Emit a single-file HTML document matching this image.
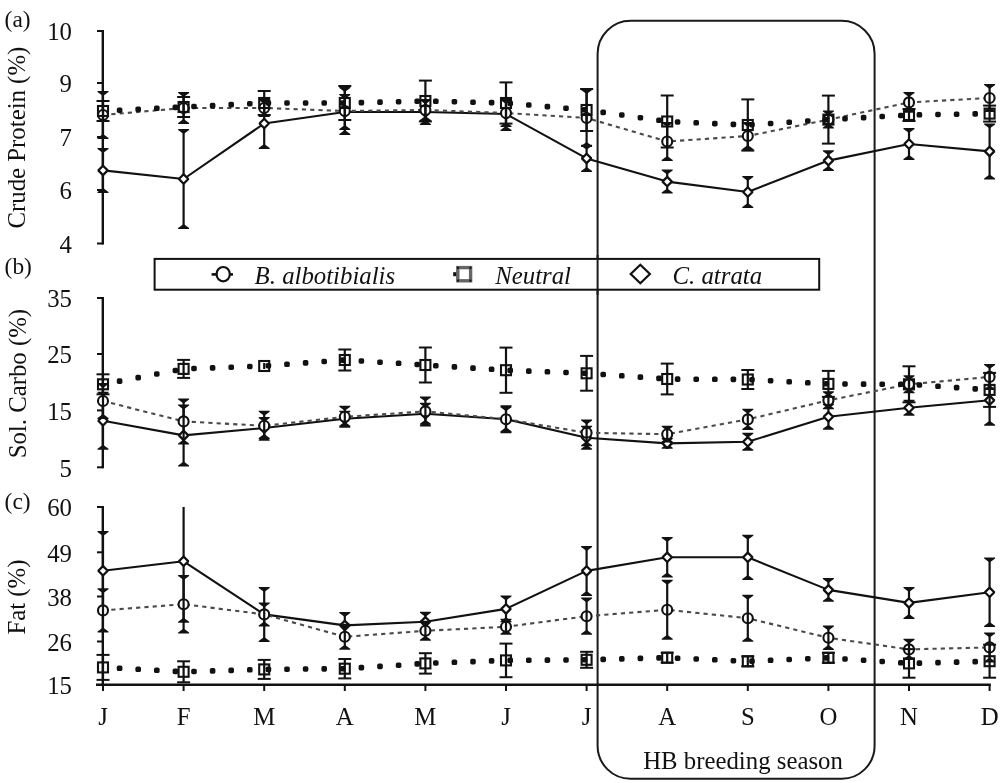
<!DOCTYPE html>
<html><head><meta charset="utf-8"><title>Figure</title>
<style>
html,body{margin:0;padding:0;background:#fff}
svg{display:block}
text{font-family:"Liberation Serif","Times New Roman",serif;font-size:24.8px;fill:#111}
.it{font-style:italic}
.pl{font-size:23.4px}
.ax{stroke:#111;stroke-width:2.4;fill:none}
.tk{stroke:#111;stroke-width:2;fill:none}
.eb{stroke:#111;stroke-width:2.2}
.cap{stroke:#111;stroke-width:2}
.tri{fill:#111;stroke:none}
.dot{fill:none;stroke:#111;stroke-width:5.2;stroke-linejoin:round;stroke-dasharray:5.4 13.2;stroke-dashoffset:4.7}
.dt{fill:#111}
.dash{fill:none;stroke:#4a4a4a;stroke-width:2.1;stroke-dasharray:4.2 4.1}
.sol{fill:none;stroke:#111;stroke-width:2.1;stroke-linejoin:round}
.mk{fill:none;stroke:#111;stroke-width:2.1}
.cm{fill:#fff}
.dm{stroke-width:2.3;stroke-linejoin:bevel;fill:#fff}
</style></head><body>
<svg width="1002" height="783" viewBox="0 0 1002 783">
<rect width="1002" height="783" fill="#fff"/>
<rect x="597.6" y="20.8" width="277" height="758" rx="33" ry="33" fill="none" stroke="#1a1a1a" stroke-width="2"/>
<rect x="154.6" y="258.9" width="664.6" height="30.8" fill="#fff" stroke="#111" stroke-width="2"/>
<line x1="597.6" y1="255" x2="597.6" y2="295" stroke="#1a1a1a" stroke-width="2"/>
<g class="lg">
<line x1="211.6" y1="274.4" x2="233" y2="274.4" stroke="#111" stroke-width="2.6"/>
<ellipse cx="223.2" cy="274.2" rx="6.6" ry="7.2" fill="#fff" stroke="#111" stroke-width="2.2"/>
<text x="254.6" y="284" class="it">B. albotibialis</text>
<rect x="453.2" y="272.2" width="5" height="4" fill="#111"/>
<rect x="457.8" y="267.6" width="12.8" height="13.2" fill="#fff" stroke="#666" stroke-width="3.4"/>
<rect x="457" y="266.8" width="2" height="2" fill="#111"/>
<rect x="457" y="279.6" width="2" height="2" fill="#111"/>
<rect x="469.4" y="266.8" width="2" height="2" fill="#111"/>
<rect x="469.4" y="279.6" width="2" height="2" fill="#111"/>
<text x="495.2" y="284" class="it">Neutral</text>
<path d="M640.3 264.8L649.9 274L640.3 283.2L630.7 274Z" fill="#fff" stroke="#111" stroke-width="2.2"/>
<text x="672.5" y="284" class="it">C. atrata</text>
</g>
<line x1="102.8" y1="30" x2="102.8" y2="244.5" class="ax"/>
<line x1="97" y1="31" x2="103" y2="31" class="tk"/>
<text x="72" y="40.4" text-anchor="end">10</text>
<line x1="97" y1="83" x2="103" y2="83" class="tk"/>
<text x="72" y="92.4" text-anchor="end">9</text>
<line x1="97" y1="137" x2="103" y2="137" class="tk"/>
<text x="72" y="146.4" text-anchor="end">7</text>
<line x1="97" y1="190" x2="103" y2="190" class="tk"/>
<text x="72" y="199.4" text-anchor="end">6</text>
<line x1="97" y1="243.5" x2="103" y2="243.5" class="tk"/>
<text x="72" y="252.9" text-anchor="end">4</text>
<line x1="102.8" y1="297" x2="102.8" y2="468.3" class="ax"/>
<line x1="97" y1="298" x2="103" y2="298" class="tk"/>
<text x="72" y="307.4" text-anchor="end">35</text>
<line x1="97" y1="354" x2="103" y2="354" class="tk"/>
<text x="72" y="363.4" text-anchor="end">25</text>
<line x1="97" y1="410.4" x2="103" y2="410.4" class="tk"/>
<text x="72" y="419.8" text-anchor="end">15</text>
<line x1="97" y1="467.3" x2="103" y2="467.3" class="tk"/>
<text x="72" y="476.7" text-anchor="end">5</text>
<line x1="102.8" y1="506" x2="102.8" y2="685.8" class="ax"/>
<line x1="97" y1="507" x2="103" y2="507" class="tk"/>
<text x="72" y="516.4" text-anchor="end">60</text>
<line x1="97" y1="552.3" x2="103" y2="552.3" class="tk"/>
<text x="72" y="561.7" text-anchor="end">49</text>
<line x1="97" y1="596.5" x2="103" y2="596.5" class="tk"/>
<text x="72" y="605.9" text-anchor="end">38</text>
<line x1="97" y1="641.5" x2="103" y2="641.5" class="tk"/>
<text x="72" y="650.9" text-anchor="end">26</text>
<text x="72" y="694.2" text-anchor="end">15</text>
<line x1="96" y1="684.8" x2="990.8" y2="684.8" class="ax"/>
<line x1="103" y1="684" x2="103" y2="691" class="tk"/>
<text x="103" y="724.6" text-anchor="middle">J</text>
<line x1="183.6" y1="684" x2="183.6" y2="691" class="tk"/>
<text x="183.6" y="724.6" text-anchor="middle">F</text>
<line x1="264.2" y1="684" x2="264.2" y2="691" class="tk"/>
<text x="264.2" y="724.6" text-anchor="middle">M</text>
<line x1="344.8" y1="684" x2="344.8" y2="691" class="tk"/>
<text x="344.8" y="724.6" text-anchor="middle">A</text>
<line x1="425.4" y1="684" x2="425.4" y2="691" class="tk"/>
<text x="425.4" y="724.6" text-anchor="middle">M</text>
<line x1="506" y1="684" x2="506" y2="691" class="tk"/>
<text x="506" y="724.6" text-anchor="middle">J</text>
<line x1="586.6" y1="684" x2="586.6" y2="691" class="tk"/>
<text x="586.6" y="724.6" text-anchor="middle">J</text>
<line x1="667.2" y1="684" x2="667.2" y2="691" class="tk"/>
<text x="667.2" y="724.6" text-anchor="middle">A</text>
<line x1="747.8" y1="684" x2="747.8" y2="691" class="tk"/>
<text x="747.8" y="724.6" text-anchor="middle">S</text>
<line x1="828.4" y1="684" x2="828.4" y2="691" class="tk"/>
<text x="828.4" y="724.6" text-anchor="middle">O</text>
<line x1="909" y1="684" x2="909" y2="691" class="tk"/>
<text x="909" y="724.6" text-anchor="middle">N</text>
<line x1="989.6" y1="684" x2="989.6" y2="691" class="tk"/>
<text x="989.6" y="724.6" text-anchor="middle">D</text>
<text x="743" y="768.6" text-anchor="middle">HB breeding season</text>
<text x="4.6" y="27.3" class="pl">(a)</text>
<text x="4.6" y="274.2" class="pl">(b)</text>
<text x="4.6" y="509" class="pl">(c)</text>
<text transform="translate(25.3,137.6) rotate(-90)" text-anchor="middle">Crude Protein (%)</text>
<text transform="translate(25.8,383.6) rotate(-90)" text-anchor="middle">Sol. Carbo (%)</text>
<text transform="translate(25.3,597) rotate(-90)" text-anchor="middle">Fat (%)</text>
<line x1="103" y1="148.9" x2="103" y2="191.9" class="eb"/>
<path d="M97.5 147.9H108.5V148.9L103 152.9L97.5 148.9Z" class="tri"/>
<path d="M97.5 192.9H108.5V191.9L103 187.9L97.5 191.9Z" class="tri"/>
<line x1="183.6" y1="130" x2="183.6" y2="228" class="eb"/>
<path d="M178.1 129H189.1V130L183.6 134L178.1 130Z" class="tri"/>
<path d="M178.1 229H189.1V228L183.6 224L178.1 228Z" class="tri"/>
<line x1="264.2" y1="99" x2="264.2" y2="148" class="eb"/>
<path d="M258.7 98H269.7V99L264.2 103L258.7 99Z" class="tri"/>
<path d="M258.7 149H269.7V148L264.2 144L258.7 148Z" class="tri"/>
<line x1="344.8" y1="95" x2="344.8" y2="129" class="eb"/>
<path d="M339.3 94H350.3V95L344.8 99L339.3 95Z" class="tri"/>
<path d="M339.3 130H350.3V129L344.8 125L339.3 129Z" class="tri"/>
<line x1="425.4" y1="100" x2="425.4" y2="124" class="eb"/>
<path d="M419.9 99H430.9V100L425.4 104L419.9 100Z" class="tri"/>
<path d="M419.9 125H430.9V124L425.4 120L419.9 124Z" class="tri"/>
<line x1="506" y1="98" x2="506" y2="130" class="eb"/>
<path d="M500.5 97H511.5V98L506 102L500.5 98Z" class="tri"/>
<path d="M500.5 131H511.5V130L506 126L500.5 130Z" class="tri"/>
<line x1="586.6" y1="145.8" x2="586.6" y2="171" class="eb"/>
<path d="M581.1 144.8H592.1V145.8L586.6 149.8L581.1 145.8Z" class="tri"/>
<path d="M581.1 172H592.1V171L586.6 167L581.1 171Z" class="tri"/>
<line x1="667.2" y1="170.6" x2="667.2" y2="192.6" class="eb"/>
<path d="M661.7 169.6H672.7V170.6L667.2 174.6L661.7 170.6Z" class="tri"/>
<path d="M661.7 193.6H672.7V192.6L667.2 188.6L661.7 192.6Z" class="tri"/>
<line x1="747.8" y1="177" x2="747.8" y2="207" class="eb"/>
<path d="M742.3 176H753.3V177L747.8 181L742.3 177Z" class="tri"/>
<path d="M742.3 208H753.3V207L747.8 203L742.3 207Z" class="tri"/>
<line x1="828.4" y1="151.3" x2="828.4" y2="169.9" class="eb"/>
<path d="M822.9 150.3H833.9V151.3L828.4 155.3L822.9 151.3Z" class="tri"/>
<path d="M822.9 170.9H833.9V169.9L828.4 165.9L822.9 169.9Z" class="tri"/>
<line x1="909" y1="129" x2="909" y2="159" class="eb"/>
<path d="M903.5 128H914.5V129L909 133L903.5 129Z" class="tri"/>
<path d="M903.5 160H914.5V159L909 155L903.5 159Z" class="tri"/>
<line x1="989.6" y1="124.4" x2="989.6" y2="178.4" class="eb"/>
<path d="M984.1 123.4H995.1V124.4L989.6 128.4L984.1 124.4Z" class="tri"/>
<path d="M984.1 179.4H995.1V178.4L989.6 174.4L984.1 178.4Z" class="tri"/>
<polyline points="103,170.4 183.6,179 264.2,123.5 344.8,112 425.4,112 506,114 586.6,158.4 667.2,181.6 747.8,192 828.4,160.6 909,144 989.6,151.4" class="sol"/>
<path d="M103 165.7L107.7 170.4L103 175.1L98.3 170.4Z" class="mk dm"/>
<path d="M183.6 174.3L188.3 179L183.6 183.7L178.9 179Z" class="mk dm"/>
<path d="M264.2 118.8L268.9 123.5L264.2 128.2L259.5 123.5Z" class="mk dm"/>
<path d="M344.8 107.3L349.5 112L344.8 116.7L340.1 112Z" class="mk dm"/>
<path d="M425.4 107.3L430.1 112L425.4 116.7L420.7 112Z" class="mk dm"/>
<path d="M506 109.3L510.7 114L506 118.7L501.3 114Z" class="mk dm"/>
<path d="M586.6 153.7L591.3 158.4L586.6 163.1L581.9 158.4Z" class="mk dm"/>
<path d="M667.2 176.9L671.9 181.6L667.2 186.3L662.5 181.6Z" class="mk dm"/>
<path d="M747.8 187.3L752.5 192L747.8 196.7L743.1 192Z" class="mk dm"/>
<path d="M828.4 155.9L833.1 160.6L828.4 165.3L823.7 160.6Z" class="mk dm"/>
<path d="M909 139.3L913.7 144L909 148.7L904.3 144Z" class="mk dm"/>
<path d="M989.6 146.7L994.3 151.4L989.6 156.1L984.9 151.4Z" class="mk dm"/>
<polyline points="103,115 183.6,108 264.2,108 344.8,111 425.4,110 506,113 586.6,118 667.2,141.5 747.8,136 828.4,119.6 909,102.4 989.6,98" class="dash"/>
<circle cx="103" cy="115" r="5" class="mk cm"/>
<circle cx="183.6" cy="108" r="5" class="mk cm"/>
<circle cx="264.2" cy="108" r="5" class="mk cm"/>
<circle cx="344.8" cy="111" r="5" class="mk cm"/>
<circle cx="425.4" cy="110" r="5" class="mk cm"/>
<circle cx="506" cy="113" r="5" class="mk cm"/>
<circle cx="586.6" cy="118" r="5" class="mk cm"/>
<circle cx="667.2" cy="141.5" r="5" class="mk cm"/>
<circle cx="747.8" cy="136" r="5" class="mk cm"/>
<circle cx="828.4" cy="119.6" r="5" class="mk cm"/>
<circle cx="909" cy="102.4" r="5" class="mk cm"/>
<circle cx="989.6" cy="98" r="5" class="mk cm"/>
<line x1="103" y1="92" x2="103" y2="138" class="eb"/>
<path d="M97.5 91H108.5V92L103 96L97.5 92Z" class="tri"/>
<path d="M97.5 139H108.5V138L103 134L97.5 138Z" class="tri"/>
<line x1="183.6" y1="93" x2="183.6" y2="123" class="eb"/>
<path d="M178.1 92H189.1V93L183.6 97L178.1 93Z" class="tri"/>
<path d="M178.1 124H189.1V123L183.6 119L178.1 123Z" class="tri"/>
<line x1="264.2" y1="100" x2="264.2" y2="116" class="eb"/>
<path d="M258.7 99H269.7V100L264.2 104L258.7 100Z" class="tri"/>
<path d="M258.7 117H269.7V116L264.2 112L258.7 116Z" class="tri"/>
<line x1="344.8" y1="88" x2="344.8" y2="134" class="eb"/>
<path d="M339.3 87H350.3V88L344.8 92L339.3 88Z" class="tri"/>
<path d="M339.3 135H350.3V134L344.8 130L339.3 134Z" class="tri"/>
<line x1="425.4" y1="100" x2="425.4" y2="120" class="eb"/>
<path d="M419.9 99H430.9V100L425.4 104L419.9 100Z" class="tri"/>
<path d="M419.9 121H430.9V120L425.4 116L419.9 120Z" class="tri"/>
<line x1="506" y1="100" x2="506" y2="126" class="eb"/>
<path d="M500.5 99H511.5V100L506 104L500.5 100Z" class="tri"/>
<path d="M500.5 127H511.5V126L506 122L500.5 126Z" class="tri"/>
<line x1="586.6" y1="90" x2="586.6" y2="146" class="eb"/>
<path d="M581.1 89H592.1V90L586.6 94L581.1 90Z" class="tri"/>
<path d="M581.1 147H592.1V146L586.6 142L581.1 146Z" class="tri"/>
<line x1="667.2" y1="123" x2="667.2" y2="160" class="eb"/>
<path d="M661.7 122H672.7V123L667.2 127L661.7 123Z" class="tri"/>
<path d="M661.7 161H672.7V160L667.2 156L661.7 160Z" class="tri"/>
<line x1="747.8" y1="123" x2="747.8" y2="149" class="eb"/>
<path d="M742.3 122H753.3V123L747.8 127L742.3 123Z" class="tri"/>
<path d="M742.3 150H753.3V149L747.8 145L742.3 149Z" class="tri"/>
<line x1="828.4" y1="111.6" x2="828.4" y2="127.6" class="eb"/>
<path d="M822.9 110.6H833.9V111.6L828.4 115.6L822.9 111.6Z" class="tri"/>
<path d="M822.9 128.6H833.9V127.6L828.4 123.6L822.9 127.6Z" class="tri"/>
<line x1="909" y1="93" x2="909" y2="111.8" class="eb"/>
<path d="M903.5 92H914.5V93L909 97L903.5 93Z" class="tri"/>
<path d="M903.5 112.8H914.5V111.8L909 107.8L903.5 111.8Z" class="tri"/>
<line x1="989.6" y1="85" x2="989.6" y2="111" class="eb"/>
<path d="M984.1 84H995.1V85L989.6 89L984.1 85Z" class="tri"/>
<path d="M984.1 112H995.1V111L989.6 107L984.1 111Z" class="tri"/>
<rect x="116.8" y="107.4" width="5.6" height="5.6" rx="1.7" class="dt"/>
<rect x="135.4" y="106.5" width="5.6" height="5.6" rx="1.7" class="dt"/>
<rect x="154" y="105.5" width="5.6" height="5.6" rx="1.7" class="dt"/>
<rect x="172.6" y="104.6" width="5.6" height="5.6" rx="1.7" class="dt"/>
<rect x="191.2" y="103.7" width="5.6" height="5.6" rx="1.7" class="dt"/>
<rect x="209.8" y="102.8" width="5.6" height="5.6" rx="1.7" class="dt"/>
<rect x="228.4" y="101.8" width="5.6" height="5.6" rx="1.7" class="dt"/>
<rect x="247" y="100.9" width="5.6" height="5.6" rx="1.7" class="dt"/>
<rect x="265.6" y="100.2" width="5.6" height="5.6" rx="1.7" class="dt"/>
<rect x="284.2" y="100.2" width="5.6" height="5.6" rx="1.7" class="dt"/>
<rect x="302.8" y="100.2" width="5.6" height="5.6" rx="1.7" class="dt"/>
<rect x="321.4" y="100.2" width="5.6" height="5.6" rx="1.7" class="dt"/>
<rect x="340" y="100.2" width="5.6" height="5.6" rx="1.7" class="dt"/>
<rect x="358.6" y="99.8" width="5.6" height="5.6" rx="1.7" class="dt"/>
<rect x="377.2" y="99.3" width="5.6" height="5.6" rx="1.7" class="dt"/>
<rect x="395.8" y="98.9" width="5.6" height="5.6" rx="1.7" class="dt"/>
<rect x="414.4" y="98.4" width="5.6" height="5.6" rx="1.7" class="dt"/>
<rect x="433" y="98.5" width="5.6" height="5.6" rx="1.7" class="dt"/>
<rect x="451.6" y="98.9" width="5.6" height="5.6" rx="1.7" class="dt"/>
<rect x="470.2" y="99.4" width="5.6" height="5.6" rx="1.7" class="dt"/>
<rect x="488.8" y="99.8" width="5.6" height="5.6" rx="1.7" class="dt"/>
<rect x="507.4" y="100.6" width="5.6" height="5.6" rx="1.7" class="dt"/>
<rect x="526" y="102.2" width="5.6" height="5.6" rx="1.7" class="dt"/>
<rect x="544.6" y="103.8" width="5.6" height="5.6" rx="1.7" class="dt"/>
<rect x="563.2" y="105.4" width="5.6" height="5.6" rx="1.7" class="dt"/>
<rect x="581.8" y="107" width="5.6" height="5.6" rx="1.7" class="dt"/>
<rect x="600.4" y="109.6" width="5.6" height="5.6" rx="1.7" class="dt"/>
<rect x="619" y="112.2" width="5.6" height="5.6" rx="1.7" class="dt"/>
<rect x="637.6" y="114.9" width="5.6" height="5.6" rx="1.7" class="dt"/>
<rect x="656.2" y="117.5" width="5.6" height="5.6" rx="1.7" class="dt"/>
<rect x="674.8" y="119.2" width="5.6" height="5.6" rx="1.7" class="dt"/>
<rect x="693.4" y="120" width="5.6" height="5.6" rx="1.7" class="dt"/>
<rect x="712" y="120.8" width="5.6" height="5.6" rx="1.7" class="dt"/>
<rect x="730.6" y="121.6" width="5.6" height="5.6" rx="1.7" class="dt"/>
<rect x="749.2" y="121.9" width="5.6" height="5.6" rx="1.7" class="dt"/>
<rect x="767.8" y="120.7" width="5.6" height="5.6" rx="1.7" class="dt"/>
<rect x="786.4" y="119.4" width="5.6" height="5.6" rx="1.7" class="dt"/>
<rect x="805" y="118.2" width="5.6" height="5.6" rx="1.7" class="dt"/>
<rect x="823.6" y="116.9" width="5.6" height="5.6" rx="1.7" class="dt"/>
<rect x="842.2" y="115.9" width="5.6" height="5.6" rx="1.7" class="dt"/>
<rect x="860.8" y="114.8" width="5.6" height="5.6" rx="1.7" class="dt"/>
<rect x="879.4" y="113.7" width="5.6" height="5.6" rx="1.7" class="dt"/>
<rect x="898" y="112.7" width="5.6" height="5.6" rx="1.7" class="dt"/>
<rect x="916.6" y="112" width="5.6" height="5.6" rx="1.7" class="dt"/>
<rect x="935.2" y="111.7" width="5.6" height="5.6" rx="1.7" class="dt"/>
<rect x="953.8" y="111.4" width="5.6" height="5.6" rx="1.7" class="dt"/>
<rect x="972.4" y="111.1" width="5.6" height="5.6" rx="1.7" class="dt"/>
<line x1="103" y1="101" x2="103" y2="121" class="eb"/>
<line x1="96.5" y1="101" x2="109.5" y2="101" class="cap"/>
<line x1="96.5" y1="121" x2="109.5" y2="121" class="cap"/>
<line x1="183.6" y1="97" x2="183.6" y2="117" class="eb"/>
<line x1="177.1" y1="97" x2="190.1" y2="97" class="cap"/>
<line x1="177.1" y1="117" x2="190.1" y2="117" class="cap"/>
<line x1="264.2" y1="91" x2="264.2" y2="115" class="eb"/>
<line x1="257.7" y1="91" x2="270.7" y2="91" class="cap"/>
<line x1="257.7" y1="115" x2="270.7" y2="115" class="cap"/>
<line x1="344.8" y1="86" x2="344.8" y2="120" class="eb"/>
<line x1="338.3" y1="86" x2="351.3" y2="86" class="cap"/>
<line x1="338.3" y1="120" x2="351.3" y2="120" class="cap"/>
<line x1="425.4" y1="80.6" x2="425.4" y2="121.4" class="eb"/>
<line x1="418.9" y1="80.6" x2="431.9" y2="80.6" class="cap"/>
<line x1="418.9" y1="121.4" x2="431.9" y2="121.4" class="cap"/>
<line x1="506" y1="82.4" x2="506" y2="123.6" class="eb"/>
<line x1="499.5" y1="82.4" x2="512.5" y2="82.4" class="cap"/>
<line x1="499.5" y1="123.6" x2="512.5" y2="123.6" class="cap"/>
<line x1="586.6" y1="89" x2="586.6" y2="131" class="eb"/>
<line x1="580.1" y1="89" x2="593.1" y2="89" class="cap"/>
<line x1="580.1" y1="131" x2="593.1" y2="131" class="cap"/>
<line x1="667.2" y1="95.5" x2="667.2" y2="147.5" class="eb"/>
<line x1="660.7" y1="95.5" x2="673.7" y2="95.5" class="cap"/>
<line x1="660.7" y1="147.5" x2="673.7" y2="147.5" class="cap"/>
<line x1="747.8" y1="99.4" x2="747.8" y2="150.6" class="eb"/>
<line x1="741.3" y1="99.4" x2="754.3" y2="99.4" class="cap"/>
<line x1="741.3" y1="150.6" x2="754.3" y2="150.6" class="cap"/>
<line x1="828.4" y1="95.6" x2="828.4" y2="143.6" class="eb"/>
<line x1="821.9" y1="95.6" x2="834.9" y2="95.6" class="cap"/>
<line x1="821.9" y1="143.6" x2="834.9" y2="143.6" class="cap"/>
<line x1="909" y1="109" x2="909" y2="121" class="eb"/>
<line x1="902.5" y1="109" x2="915.5" y2="109" class="cap"/>
<line x1="902.5" y1="121" x2="915.5" y2="121" class="cap"/>
<line x1="989.6" y1="105.6" x2="989.6" y2="121.6" class="eb"/>
<line x1="983.1" y1="105.6" x2="996.1" y2="105.6" class="cap"/>
<line x1="983.1" y1="121.6" x2="996.1" y2="121.6" class="cap"/>
<rect x="98" y="106" width="10" height="10" class="mk"/>
<rect x="178.6" y="102" width="10" height="10" class="mk"/>
<rect x="259.2" y="98" width="10" height="10" class="mk"/>
<rect x="339.8" y="98" width="10" height="10" class="mk"/>
<rect x="420.4" y="96" width="10" height="10" class="mk"/>
<rect x="501" y="98" width="10" height="10" class="mk"/>
<rect x="581.6" y="105" width="10" height="10" class="mk"/>
<rect x="662.2" y="116.5" width="10" height="10" class="mk"/>
<rect x="742.8" y="120" width="10" height="10" class="mk"/>
<rect x="823.4" y="114.6" width="10" height="10" class="mk"/>
<rect x="904" y="110" width="10" height="10" class="mk"/>
<rect x="984.6" y="108.6" width="10" height="10" class="mk"/>
<line x1="103" y1="392.8" x2="103" y2="448.8" class="eb"/>
<path d="M97.5 391.8H108.5V392.8L103 396.8L97.5 392.8Z" class="tri"/>
<path d="M97.5 449.8H108.5V448.8L103 444.8L97.5 448.8Z" class="tri"/>
<line x1="183.6" y1="405.4" x2="183.6" y2="465.4" class="eb"/>
<path d="M178.1 404.4H189.1V405.4L183.6 409.4L178.1 405.4Z" class="tri"/>
<path d="M178.1 466.4H189.1V465.4L183.6 461.4L178.1 465.4Z" class="tri"/>
<line x1="264.2" y1="418" x2="264.2" y2="438" class="eb"/>
<path d="M258.7 417H269.7V418L264.2 422L258.7 418Z" class="tri"/>
<path d="M258.7 439H269.7V438L264.2 434L258.7 438Z" class="tri"/>
<line x1="344.8" y1="411.8" x2="344.8" y2="425.8" class="eb"/>
<path d="M339.3 410.8H350.3V411.8L344.8 415.8L339.3 411.8Z" class="tri"/>
<path d="M339.3 426.8H350.3V425.8L344.8 421.8L339.3 425.8Z" class="tri"/>
<line x1="425.4" y1="403.8" x2="425.4" y2="423.8" class="eb"/>
<path d="M419.9 402.8H430.9V403.8L425.4 407.8L419.9 403.8Z" class="tri"/>
<path d="M419.9 424.8H430.9V423.8L425.4 419.8L419.9 423.8Z" class="tri"/>
<line x1="506" y1="406.2" x2="506" y2="432.2" class="eb"/>
<path d="M500.5 405.2H511.5V406.2L506 410.2L500.5 406.2Z" class="tri"/>
<path d="M500.5 433.2H511.5V432.2L506 428.2L500.5 432.2Z" class="tri"/>
<line x1="586.6" y1="426.8" x2="586.6" y2="448.8" class="eb"/>
<path d="M581.1 425.8H592.1V426.8L586.6 430.8L581.1 426.8Z" class="tri"/>
<path d="M581.1 449.8H592.1V448.8L586.6 444.8L581.1 448.8Z" class="tri"/>
<line x1="667.2" y1="439" x2="667.2" y2="447.8" class="eb"/>
<path d="M661.7 438H672.7V439L667.2 443L661.7 439Z" class="tri"/>
<path d="M661.7 448.8H672.7V447.8L667.2 443.8L661.7 447.8Z" class="tri"/>
<line x1="747.8" y1="433.8" x2="747.8" y2="449.8" class="eb"/>
<path d="M742.3 432.8H753.3V433.8L747.8 437.8L742.3 433.8Z" class="tri"/>
<path d="M742.3 450.8H753.3V449.8L747.8 445.8L742.3 449.8Z" class="tri"/>
<line x1="828.4" y1="404.8" x2="828.4" y2="428.8" class="eb"/>
<path d="M822.9 403.8H833.9V404.8L828.4 408.8L822.9 404.8Z" class="tri"/>
<path d="M822.9 429.8H833.9V428.8L828.4 424.8L822.9 428.8Z" class="tri"/>
<line x1="909" y1="400.8" x2="909" y2="414.8" class="eb"/>
<path d="M903.5 399.8H914.5V400.8L909 404.8L903.5 400.8Z" class="tri"/>
<path d="M903.5 415.8H914.5V414.8L909 410.8L903.5 414.8Z" class="tri"/>
<line x1="989.6" y1="375.8" x2="989.6" y2="424.8" class="eb"/>
<path d="M984.1 374.8H995.1V375.8L989.6 379.8L984.1 375.8Z" class="tri"/>
<path d="M984.1 425.8H995.1V424.8L989.6 420.8L984.1 424.8Z" class="tri"/>
<polyline points="103,420.8 183.6,435.4 264.2,428 344.8,418.8 425.4,413.8 506,419.2 586.6,437.8 667.2,443.4 747.8,441.8 828.4,416.8 909,407.8 989.6,400.3" class="sol"/>
<path d="M103 416.1L107.7 420.8L103 425.5L98.3 420.8Z" class="mk dm"/>
<path d="M183.6 430.7L188.3 435.4L183.6 440.1L178.9 435.4Z" class="mk dm"/>
<path d="M264.2 423.3L268.9 428L264.2 432.7L259.5 428Z" class="mk dm"/>
<path d="M344.8 414.1L349.5 418.8L344.8 423.5L340.1 418.8Z" class="mk dm"/>
<path d="M425.4 409.1L430.1 413.8L425.4 418.5L420.7 413.8Z" class="mk dm"/>
<path d="M506 414.5L510.7 419.2L506 423.9L501.3 419.2Z" class="mk dm"/>
<path d="M586.6 433.1L591.3 437.8L586.6 442.5L581.9 437.8Z" class="mk dm"/>
<path d="M667.2 438.7L671.9 443.4L667.2 448.1L662.5 443.4Z" class="mk dm"/>
<path d="M747.8 437.1L752.5 441.8L747.8 446.5L743.1 441.8Z" class="mk dm"/>
<path d="M828.4 412.1L833.1 416.8L828.4 421.5L823.7 416.8Z" class="mk dm"/>
<path d="M909 403.1L913.7 407.8L909 412.5L904.3 407.8Z" class="mk dm"/>
<path d="M989.6 395.6L994.3 400.3L989.6 405L984.9 400.3Z" class="mk dm"/>
<polyline points="103,401 183.6,421.4 264.2,425.8 344.8,416.8 425.4,411.4 506,419.2 586.6,432.8 667.2,434.2 747.8,419.4 828.4,400.3 909,384.3 989.6,376.9" class="dash"/>
<circle cx="103" cy="401" r="5" class="mk cm"/>
<circle cx="183.6" cy="421.4" r="5" class="mk cm"/>
<circle cx="264.2" cy="425.8" r="5" class="mk cm"/>
<circle cx="344.8" cy="416.8" r="5" class="mk cm"/>
<circle cx="425.4" cy="411.4" r="5" class="mk cm"/>
<circle cx="506" cy="419.2" r="5" class="mk cm"/>
<circle cx="586.6" cy="432.8" r="5" class="mk cm"/>
<circle cx="667.2" cy="434.2" r="5" class="mk cm"/>
<circle cx="747.8" cy="419.4" r="5" class="mk cm"/>
<circle cx="828.4" cy="400.3" r="5" class="mk cm"/>
<circle cx="909" cy="384.3" r="5" class="mk cm"/>
<circle cx="989.6" cy="376.9" r="5" class="mk cm"/>
<line x1="103" y1="384" x2="103" y2="418" class="eb"/>
<path d="M97.5 383H108.5V384L103 388L97.5 384Z" class="tri"/>
<path d="M97.5 419H108.5V418L103 414L97.5 418Z" class="tri"/>
<line x1="183.6" y1="399.4" x2="183.6" y2="443.4" class="eb"/>
<path d="M178.1 398.4H189.1V399.4L183.6 403.4L178.1 399.4Z" class="tri"/>
<path d="M178.1 444.4H189.1V443.4L183.6 439.4L178.1 443.4Z" class="tri"/>
<line x1="264.2" y1="411.8" x2="264.2" y2="439.8" class="eb"/>
<path d="M258.7 410.8H269.7V411.8L264.2 415.8L258.7 411.8Z" class="tri"/>
<path d="M258.7 440.8H269.7V439.8L264.2 435.8L258.7 439.8Z" class="tri"/>
<line x1="344.8" y1="406.8" x2="344.8" y2="426.8" class="eb"/>
<path d="M339.3 405.8H350.3V406.8L344.8 410.8L339.3 406.8Z" class="tri"/>
<path d="M339.3 427.8H350.3V426.8L344.8 422.8L339.3 426.8Z" class="tri"/>
<line x1="425.4" y1="397.4" x2="425.4" y2="425.4" class="eb"/>
<path d="M419.9 396.4H430.9V397.4L425.4 401.4L419.9 397.4Z" class="tri"/>
<path d="M419.9 426.4H430.9V425.4L425.4 421.4L419.9 425.4Z" class="tri"/>
<line x1="506" y1="407.2" x2="506" y2="431.2" class="eb"/>
<path d="M500.5 406.2H511.5V407.2L506 411.2L500.5 407.2Z" class="tri"/>
<path d="M500.5 432.2H511.5V431.2L506 427.2L500.5 431.2Z" class="tri"/>
<line x1="586.6" y1="420.4" x2="586.6" y2="445.2" class="eb"/>
<path d="M581.1 419.4H592.1V420.4L586.6 424.4L581.1 420.4Z" class="tri"/>
<path d="M581.1 446.2H592.1V445.2L586.6 441.2L581.1 445.2Z" class="tri"/>
<line x1="667.2" y1="426.8" x2="667.2" y2="441.6" class="eb"/>
<path d="M661.7 425.8H672.7V426.8L667.2 430.8L661.7 426.8Z" class="tri"/>
<path d="M661.7 442.6H672.7V441.6L667.2 437.6L661.7 441.6Z" class="tri"/>
<line x1="747.8" y1="409.8" x2="747.8" y2="429" class="eb"/>
<path d="M742.3 408.8H753.3V409.8L747.8 413.8L742.3 409.8Z" class="tri"/>
<path d="M742.3 430H753.3V429L747.8 425L742.3 429Z" class="tri"/>
<line x1="828.4" y1="392.3" x2="828.4" y2="408.3" class="eb"/>
<path d="M822.9 391.3H833.9V392.3L828.4 396.3L822.9 392.3Z" class="tri"/>
<path d="M822.9 409.3H833.9V408.3L828.4 404.3L822.9 408.3Z" class="tri"/>
<line x1="909" y1="376.3" x2="909" y2="392.3" class="eb"/>
<path d="M903.5 375.3H914.5V376.3L909 380.3L903.5 376.3Z" class="tri"/>
<path d="M903.5 393.3H914.5V392.3L909 388.3L903.5 392.3Z" class="tri"/>
<line x1="989.6" y1="364.9" x2="989.6" y2="388.9" class="eb"/>
<path d="M984.1 363.9H995.1V364.9L989.6 368.9L984.1 364.9Z" class="tri"/>
<path d="M984.1 389.9H995.1V388.9L989.6 384.9L984.1 388.9Z" class="tri"/>
<rect x="116.8" y="378.3" width="5.6" height="5.6" rx="1.7" class="dt"/>
<rect x="135.4" y="374.8" width="5.6" height="5.6" rx="1.7" class="dt"/>
<rect x="154" y="371.2" width="5.6" height="5.6" rx="1.7" class="dt"/>
<rect x="172.6" y="367.7" width="5.6" height="5.6" rx="1.7" class="dt"/>
<rect x="191.2" y="365.7" width="5.6" height="5.6" rx="1.7" class="dt"/>
<rect x="209.8" y="365.1" width="5.6" height="5.6" rx="1.7" class="dt"/>
<rect x="228.4" y="364.4" width="5.6" height="5.6" rx="1.7" class="dt"/>
<rect x="247" y="363.7" width="5.6" height="5.6" rx="1.7" class="dt"/>
<rect x="265.6" y="362.9" width="5.6" height="5.6" rx="1.7" class="dt"/>
<rect x="284.2" y="361.5" width="5.6" height="5.6" rx="1.7" class="dt"/>
<rect x="302.8" y="360.1" width="5.6" height="5.6" rx="1.7" class="dt"/>
<rect x="321.4" y="358.7" width="5.6" height="5.6" rx="1.7" class="dt"/>
<rect x="340" y="357.3" width="5.6" height="5.6" rx="1.7" class="dt"/>
<rect x="358.6" y="358.2" width="5.6" height="5.6" rx="1.7" class="dt"/>
<rect x="377.2" y="359.4" width="5.6" height="5.6" rx="1.7" class="dt"/>
<rect x="395.8" y="360.5" width="5.6" height="5.6" rx="1.7" class="dt"/>
<rect x="414.4" y="361.7" width="5.6" height="5.6" rx="1.7" class="dt"/>
<rect x="433" y="362.9" width="5.6" height="5.6" rx="1.7" class="dt"/>
<rect x="451.6" y="364.1" width="5.6" height="5.6" rx="1.7" class="dt"/>
<rect x="470.2" y="365.3" width="5.6" height="5.6" rx="1.7" class="dt"/>
<rect x="488.8" y="366.5" width="5.6" height="5.6" rx="1.7" class="dt"/>
<rect x="507.4" y="367.6" width="5.6" height="5.6" rx="1.7" class="dt"/>
<rect x="526" y="368.3" width="5.6" height="5.6" rx="1.7" class="dt"/>
<rect x="544.6" y="369" width="5.6" height="5.6" rx="1.7" class="dt"/>
<rect x="563.2" y="369.7" width="5.6" height="5.6" rx="1.7" class="dt"/>
<rect x="581.8" y="370.4" width="5.6" height="5.6" rx="1.7" class="dt"/>
<rect x="600.4" y="371.7" width="5.6" height="5.6" rx="1.7" class="dt"/>
<rect x="619" y="373" width="5.6" height="5.6" rx="1.7" class="dt"/>
<rect x="637.6" y="374.3" width="5.6" height="5.6" rx="1.7" class="dt"/>
<rect x="656.2" y="375.6" width="5.6" height="5.6" rx="1.7" class="dt"/>
<rect x="674.8" y="376.3" width="5.6" height="5.6" rx="1.7" class="dt"/>
<rect x="693.4" y="376.4" width="5.6" height="5.6" rx="1.7" class="dt"/>
<rect x="712" y="376.5" width="5.6" height="5.6" rx="1.7" class="dt"/>
<rect x="730.6" y="376.6" width="5.6" height="5.6" rx="1.7" class="dt"/>
<rect x="749.2" y="376.9" width="5.6" height="5.6" rx="1.7" class="dt"/>
<rect x="767.8" y="377.9" width="5.6" height="5.6" rx="1.7" class="dt"/>
<rect x="786.4" y="379" width="5.6" height="5.6" rx="1.7" class="dt"/>
<rect x="805" y="380" width="5.6" height="5.6" rx="1.7" class="dt"/>
<rect x="823.6" y="381" width="5.6" height="5.6" rx="1.7" class="dt"/>
<rect x="842.2" y="381.2" width="5.6" height="5.6" rx="1.7" class="dt"/>
<rect x="860.8" y="381.3" width="5.6" height="5.6" rx="1.7" class="dt"/>
<rect x="879.4" y="381.4" width="5.6" height="5.6" rx="1.7" class="dt"/>
<rect x="898" y="381.5" width="5.6" height="5.6" rx="1.7" class="dt"/>
<rect x="916.6" y="382.2" width="5.6" height="5.6" rx="1.7" class="dt"/>
<rect x="935.2" y="383.5" width="5.6" height="5.6" rx="1.7" class="dt"/>
<rect x="953.8" y="384.8" width="5.6" height="5.6" rx="1.7" class="dt"/>
<rect x="972.4" y="386.1" width="5.6" height="5.6" rx="1.7" class="dt"/>
<line x1="103" y1="374.3" x2="103" y2="394.3" class="eb"/>
<line x1="96.5" y1="374.3" x2="109.5" y2="374.3" class="cap"/>
<line x1="96.5" y1="394.3" x2="109.5" y2="394.3" class="cap"/>
<line x1="183.6" y1="359.9" x2="183.6" y2="377.9" class="eb"/>
<line x1="177.1" y1="359.9" x2="190.1" y2="359.9" class="cap"/>
<line x1="177.1" y1="377.9" x2="190.1" y2="377.9" class="cap"/>
<line x1="264.2" y1="363" x2="264.2" y2="369" class="eb"/>
<line x1="344.8" y1="349.5" x2="344.8" y2="370.5" class="eb"/>
<line x1="338.3" y1="349.5" x2="351.3" y2="349.5" class="cap"/>
<line x1="338.3" y1="370.5" x2="351.3" y2="370.5" class="cap"/>
<line x1="425.4" y1="347.5" x2="425.4" y2="382.5" class="eb"/>
<line x1="418.9" y1="347.5" x2="431.9" y2="347.5" class="cap"/>
<line x1="418.9" y1="382.5" x2="431.9" y2="382.5" class="cap"/>
<line x1="506" y1="347.6" x2="506" y2="392.8" class="eb"/>
<line x1="499.5" y1="347.6" x2="512.5" y2="347.6" class="cap"/>
<line x1="499.5" y1="392.8" x2="512.5" y2="392.8" class="cap"/>
<line x1="586.6" y1="355.9" x2="586.6" y2="390.7" class="eb"/>
<line x1="580.1" y1="355.9" x2="593.1" y2="355.9" class="cap"/>
<line x1="580.1" y1="390.7" x2="593.1" y2="390.7" class="cap"/>
<line x1="667.2" y1="363.6" x2="667.2" y2="394.4" class="eb"/>
<line x1="660.7" y1="363.6" x2="673.7" y2="363.6" class="cap"/>
<line x1="660.7" y1="394.4" x2="673.7" y2="394.4" class="cap"/>
<line x1="747.8" y1="370" x2="747.8" y2="389" class="eb"/>
<line x1="741.3" y1="370" x2="754.3" y2="370" class="cap"/>
<line x1="741.3" y1="389" x2="754.3" y2="389" class="cap"/>
<line x1="828.4" y1="370.9" x2="828.4" y2="396.9" class="eb"/>
<line x1="821.9" y1="370.9" x2="834.9" y2="370.9" class="cap"/>
<line x1="821.9" y1="396.9" x2="834.9" y2="396.9" class="cap"/>
<line x1="909" y1="366.3" x2="909" y2="402.3" class="eb"/>
<line x1="902.5" y1="366.3" x2="915.5" y2="366.3" class="cap"/>
<line x1="902.5" y1="402.3" x2="915.5" y2="402.3" class="cap"/>
<line x1="989.6" y1="372.9" x2="989.6" y2="406.9" class="eb"/>
<line x1="983.1" y1="372.9" x2="996.1" y2="372.9" class="cap"/>
<line x1="983.1" y1="406.9" x2="996.1" y2="406.9" class="cap"/>
<rect x="98" y="379.3" width="10" height="10" class="mk"/>
<rect x="178.6" y="363.9" width="10" height="10" class="mk"/>
<rect x="259.2" y="361" width="10" height="10" class="mk"/>
<rect x="339.8" y="355" width="10" height="10" class="mk"/>
<rect x="420.4" y="360" width="10" height="10" class="mk"/>
<rect x="501" y="365.2" width="10" height="10" class="mk"/>
<rect x="581.6" y="368.3" width="10" height="10" class="mk"/>
<rect x="662.2" y="374" width="10" height="10" class="mk"/>
<rect x="742.8" y="374.5" width="10" height="10" class="mk"/>
<rect x="823.4" y="378.9" width="10" height="10" class="mk"/>
<rect x="904" y="379.3" width="10" height="10" class="mk"/>
<rect x="984.6" y="384.9" width="10" height="10" class="mk"/>
<line x1="103" y1="532" x2="103" y2="609.6" class="eb"/>
<path d="M97.5 531H108.5V532L103 536L97.5 532Z" class="tri"/>
<path d="M97.5 610.6H108.5V609.6L103 605.6L97.5 609.6Z" class="tri"/>
<line x1="183.6" y1="507" x2="183.6" y2="621.7" class="eb"/>
<path d="M178.1 622.7H189.1V621.7L183.6 617.7L178.1 621.7Z" class="tri"/>
<line x1="264.2" y1="587.9" x2="264.2" y2="640.9" class="eb"/>
<path d="M258.7 586.9H269.7V587.9L264.2 591.9L258.7 587.9Z" class="tri"/>
<path d="M258.7 641.9H269.7V640.9L264.2 636.9L258.7 640.9Z" class="tri"/>
<line x1="344.8" y1="612.9" x2="344.8" y2="637.9" class="eb"/>
<path d="M339.3 611.9H350.3V612.9L344.8 616.9L339.3 612.9Z" class="tri"/>
<path d="M339.3 638.9H350.3V637.9L344.8 633.9L339.3 637.9Z" class="tri"/>
<line x1="425.4" y1="612.8" x2="425.4" y2="630.8" class="eb"/>
<path d="M419.9 611.8H430.9V612.8L425.4 616.8L419.9 612.8Z" class="tri"/>
<path d="M419.9 631.8H430.9V630.8L425.4 626.8L419.9 630.8Z" class="tri"/>
<line x1="506" y1="596.5" x2="506" y2="621.3" class="eb"/>
<path d="M500.5 595.5H511.5V596.5L506 600.5L500.5 596.5Z" class="tri"/>
<path d="M500.5 622.3H511.5V621.3L506 617.3L500.5 621.3Z" class="tri"/>
<line x1="586.6" y1="546.9" x2="586.6" y2="594.9" class="eb"/>
<path d="M581.1 545.9H592.1V546.9L586.6 550.9L581.1 546.9Z" class="tri"/>
<path d="M581.1 595.9H592.1V594.9L586.6 590.9L581.1 594.9Z" class="tri"/>
<line x1="667.2" y1="538" x2="667.2" y2="576.6" class="eb"/>
<path d="M661.7 537H672.7V538L667.2 542L661.7 538Z" class="tri"/>
<path d="M661.7 577.6H672.7V576.6L667.2 572.6L661.7 576.6Z" class="tri"/>
<line x1="747.8" y1="535.7" x2="747.8" y2="578.9" class="eb"/>
<path d="M742.3 534.7H753.3V535.7L747.8 539.7L742.3 535.7Z" class="tri"/>
<path d="M742.3 579.9H753.3V578.9L747.8 574.9L742.3 578.9Z" class="tri"/>
<line x1="828.4" y1="579.1" x2="828.4" y2="600.7" class="eb"/>
<path d="M822.9 578.1H833.9V579.1L828.4 583.1L822.9 579.1Z" class="tri"/>
<path d="M822.9 601.7H833.9V600.7L828.4 596.7L822.9 600.7Z" class="tri"/>
<line x1="909" y1="587.9" x2="909" y2="617.9" class="eb"/>
<path d="M903.5 586.9H914.5V587.9L909 591.9L903.5 587.9Z" class="tri"/>
<path d="M903.5 618.9H914.5V617.9L909 613.9L903.5 617.9Z" class="tri"/>
<line x1="989.6" y1="558.5" x2="989.6" y2="626.1" class="eb"/>
<path d="M984.1 557.5H995.1V558.5L989.6 562.5L984.1 558.5Z" class="tri"/>
<path d="M984.1 627.1H995.1V626.1L989.6 622.1L984.1 626.1Z" class="tri"/>
<polyline points="103,570.8 183.6,561.3 264.2,614.4 344.8,625.4 425.4,621.8 506,608.9 586.6,570.9 667.2,557.3 747.8,557.3 828.4,589.9 909,602.9 989.6,592.3" class="sol"/>
<path d="M103 566.1L107.7 570.8L103 575.5L98.3 570.8Z" class="mk dm"/>
<path d="M183.6 556.6L188.3 561.3L183.6 566L178.9 561.3Z" class="mk dm"/>
<path d="M264.2 609.7L268.9 614.4L264.2 619.1L259.5 614.4Z" class="mk dm"/>
<path d="M344.8 620.7L349.5 625.4L344.8 630.1L340.1 625.4Z" class="mk dm"/>
<path d="M425.4 617.1L430.1 621.8L425.4 626.5L420.7 621.8Z" class="mk dm"/>
<path d="M506 604.2L510.7 608.9L506 613.6L501.3 608.9Z" class="mk dm"/>
<path d="M586.6 566.2L591.3 570.9L586.6 575.6L581.9 570.9Z" class="mk dm"/>
<path d="M667.2 552.6L671.9 557.3L667.2 562L662.5 557.3Z" class="mk dm"/>
<path d="M747.8 552.6L752.5 557.3L747.8 562L743.1 557.3Z" class="mk dm"/>
<path d="M828.4 585.2L833.1 589.9L828.4 594.6L823.7 589.9Z" class="mk dm"/>
<path d="M909 598.2L913.7 602.9L909 607.6L904.3 602.9Z" class="mk dm"/>
<path d="M989.6 587.6L994.3 592.3L989.6 597L984.9 592.3Z" class="mk dm"/>
<polyline points="103,610.4 183.6,604.2 264.2,614.4 344.8,636.8 425.4,630.8 506,626.8 586.6,616.2 667.2,609.8 747.8,618.2 828.4,637.8 909,649.4 989.6,647.4" class="dash"/>
<circle cx="103" cy="610.4" r="5" class="mk cm"/>
<circle cx="183.6" cy="604.2" r="5" class="mk cm"/>
<circle cx="264.2" cy="614.4" r="5" class="mk cm"/>
<circle cx="344.8" cy="636.8" r="5" class="mk cm"/>
<circle cx="425.4" cy="630.8" r="5" class="mk cm"/>
<circle cx="506" cy="626.8" r="5" class="mk cm"/>
<circle cx="586.6" cy="616.2" r="5" class="mk cm"/>
<circle cx="667.2" cy="609.8" r="5" class="mk cm"/>
<circle cx="747.8" cy="618.2" r="5" class="mk cm"/>
<circle cx="828.4" cy="637.8" r="5" class="mk cm"/>
<circle cx="909" cy="649.4" r="5" class="mk cm"/>
<circle cx="989.6" cy="647.4" r="5" class="mk cm"/>
<line x1="103" y1="589.2" x2="103" y2="631.6" class="eb"/>
<path d="M97.5 588.2H108.5V589.2L103 593.2L97.5 589.2Z" class="tri"/>
<path d="M97.5 632.6H108.5V631.6L103 627.6L97.5 631.6Z" class="tri"/>
<line x1="183.6" y1="576" x2="183.6" y2="632.4" class="eb"/>
<path d="M178.1 575H189.1V576L183.6 580L178.1 576Z" class="tri"/>
<path d="M178.1 633.4H189.1V632.4L183.6 628.4L178.1 632.4Z" class="tri"/>
<line x1="264.2" y1="603.4" x2="264.2" y2="625.4" class="eb"/>
<path d="M258.7 602.4H269.7V603.4L264.2 607.4L258.7 603.4Z" class="tri"/>
<path d="M258.7 626.4H269.7V625.4L264.2 621.4L258.7 625.4Z" class="tri"/>
<line x1="344.8" y1="624.8" x2="344.8" y2="648.8" class="eb"/>
<path d="M339.3 623.8H350.3V624.8L344.8 628.8L339.3 624.8Z" class="tri"/>
<path d="M339.3 649.8H350.3V648.8L344.8 644.8L339.3 648.8Z" class="tri"/>
<line x1="425.4" y1="621.8" x2="425.4" y2="639.8" class="eb"/>
<path d="M419.9 620.8H430.9V621.8L425.4 625.8L419.9 621.8Z" class="tri"/>
<path d="M419.9 640.8H430.9V639.8L425.4 635.8L419.9 639.8Z" class="tri"/>
<line x1="506" y1="619.8" x2="506" y2="633.8" class="eb"/>
<path d="M500.5 618.8H511.5V619.8L506 623.8L500.5 619.8Z" class="tri"/>
<path d="M500.5 634.8H511.5V633.8L506 629.8L500.5 633.8Z" class="tri"/>
<line x1="586.6" y1="598.6" x2="586.6" y2="633.8" class="eb"/>
<path d="M581.1 597.6H592.1V598.6L586.6 602.6L581.1 598.6Z" class="tri"/>
<path d="M581.1 634.8H592.1V633.8L586.6 629.8L581.1 633.8Z" class="tri"/>
<line x1="667.2" y1="580.8" x2="667.2" y2="638.8" class="eb"/>
<path d="M661.7 579.8H672.7V580.8L667.2 584.8L661.7 580.8Z" class="tri"/>
<path d="M661.7 639.8H672.7V638.8L667.2 634.8L661.7 638.8Z" class="tri"/>
<line x1="747.8" y1="595.7" x2="747.8" y2="640.7" class="eb"/>
<path d="M742.3 594.7H753.3V595.7L747.8 599.7L742.3 595.7Z" class="tri"/>
<path d="M742.3 641.7H753.3V640.7L747.8 636.7L742.3 640.7Z" class="tri"/>
<line x1="828.4" y1="626.5" x2="828.4" y2="649.1" class="eb"/>
<path d="M822.9 625.5H833.9V626.5L828.4 630.5L822.9 626.5Z" class="tri"/>
<path d="M822.9 650.1H833.9V649.1L828.4 645.1L822.9 649.1Z" class="tri"/>
<line x1="909" y1="639.8" x2="909" y2="659" class="eb"/>
<path d="M903.5 638.8H914.5V639.8L909 643.8L903.5 639.8Z" class="tri"/>
<path d="M903.5 660H914.5V659L909 655L903.5 659Z" class="tri"/>
<line x1="989.6" y1="633.4" x2="989.6" y2="661.4" class="eb"/>
<path d="M984.1 632.4H995.1V633.4L989.6 637.4L984.1 633.4Z" class="tri"/>
<path d="M984.1 662.4H995.1V661.4L989.6 657.4L984.1 661.4Z" class="tri"/>
<rect x="116.8" y="665.5" width="5.6" height="5.6" rx="1.7" class="dt"/>
<rect x="135.4" y="666.5" width="5.6" height="5.6" rx="1.7" class="dt"/>
<rect x="154" y="667.5" width="5.6" height="5.6" rx="1.7" class="dt"/>
<rect x="172.6" y="668.6" width="5.6" height="5.6" rx="1.7" class="dt"/>
<rect x="191.2" y="668.7" width="5.6" height="5.6" rx="1.7" class="dt"/>
<rect x="209.8" y="668.1" width="5.6" height="5.6" rx="1.7" class="dt"/>
<rect x="228.4" y="667.6" width="5.6" height="5.6" rx="1.7" class="dt"/>
<rect x="247" y="667" width="5.6" height="5.6" rx="1.7" class="dt"/>
<rect x="265.6" y="666.6" width="5.6" height="5.6" rx="1.7" class="dt"/>
<rect x="284.2" y="666.4" width="5.6" height="5.6" rx="1.7" class="dt"/>
<rect x="302.8" y="666.2" width="5.6" height="5.6" rx="1.7" class="dt"/>
<rect x="321.4" y="666.1" width="5.6" height="5.6" rx="1.7" class="dt"/>
<rect x="340" y="665.9" width="5.6" height="5.6" rx="1.7" class="dt"/>
<rect x="358.6" y="664.8" width="5.6" height="5.6" rx="1.7" class="dt"/>
<rect x="377.2" y="663.6" width="5.6" height="5.6" rx="1.7" class="dt"/>
<rect x="395.8" y="662.4" width="5.6" height="5.6" rx="1.7" class="dt"/>
<rect x="414.4" y="661.1" width="5.6" height="5.6" rx="1.7" class="dt"/>
<rect x="433" y="660.2" width="5.6" height="5.6" rx="1.7" class="dt"/>
<rect x="451.6" y="659.5" width="5.6" height="5.6" rx="1.7" class="dt"/>
<rect x="470.2" y="658.8" width="5.6" height="5.6" rx="1.7" class="dt"/>
<rect x="488.8" y="658.1" width="5.6" height="5.6" rx="1.7" class="dt"/>
<rect x="507.4" y="657.6" width="5.6" height="5.6" rx="1.7" class="dt"/>
<rect x="526" y="657.4" width="5.6" height="5.6" rx="1.7" class="dt"/>
<rect x="544.6" y="657.3" width="5.6" height="5.6" rx="1.7" class="dt"/>
<rect x="563.2" y="657.2" width="5.6" height="5.6" rx="1.7" class="dt"/>
<rect x="581.8" y="657" width="5.6" height="5.6" rx="1.7" class="dt"/>
<rect x="600.4" y="656.6" width="5.6" height="5.6" rx="1.7" class="dt"/>
<rect x="619" y="656.1" width="5.6" height="5.6" rx="1.7" class="dt"/>
<rect x="637.6" y="655.6" width="5.6" height="5.6" rx="1.7" class="dt"/>
<rect x="656.2" y="655.1" width="5.6" height="5.6" rx="1.7" class="dt"/>
<rect x="674.8" y="655.4" width="5.6" height="5.6" rx="1.7" class="dt"/>
<rect x="693.4" y="656.2" width="5.6" height="5.6" rx="1.7" class="dt"/>
<rect x="712" y="657" width="5.6" height="5.6" rx="1.7" class="dt"/>
<rect x="730.6" y="657.9" width="5.6" height="5.6" rx="1.7" class="dt"/>
<rect x="749.2" y="658.3" width="5.6" height="5.6" rx="1.7" class="dt"/>
<rect x="767.8" y="657.5" width="5.6" height="5.6" rx="1.7" class="dt"/>
<rect x="786.4" y="656.7" width="5.6" height="5.6" rx="1.7" class="dt"/>
<rect x="805" y="655.9" width="5.6" height="5.6" rx="1.7" class="dt"/>
<rect x="823.6" y="655.1" width="5.6" height="5.6" rx="1.7" class="dt"/>
<rect x="842.2" y="656.2" width="5.6" height="5.6" rx="1.7" class="dt"/>
<rect x="860.8" y="657.4" width="5.6" height="5.6" rx="1.7" class="dt"/>
<rect x="879.4" y="658.7" width="5.6" height="5.6" rx="1.7" class="dt"/>
<rect x="898" y="660" width="5.6" height="5.6" rx="1.7" class="dt"/>
<rect x="916.6" y="660.3" width="5.6" height="5.6" rx="1.7" class="dt"/>
<rect x="935.2" y="659.8" width="5.6" height="5.6" rx="1.7" class="dt"/>
<rect x="953.8" y="659.3" width="5.6" height="5.6" rx="1.7" class="dt"/>
<rect x="972.4" y="658.8" width="5.6" height="5.6" rx="1.7" class="dt"/>
<line x1="103" y1="654.9" x2="103" y2="679.9" class="eb"/>
<line x1="96.5" y1="654.9" x2="109.5" y2="654.9" class="cap"/>
<line x1="96.5" y1="679.9" x2="109.5" y2="679.9" class="cap"/>
<line x1="183.6" y1="661.3" x2="183.6" y2="682.3" class="eb"/>
<line x1="177.1" y1="661.3" x2="190.1" y2="661.3" class="cap"/>
<line x1="177.1" y1="682.3" x2="190.1" y2="682.3" class="cap"/>
<line x1="264.2" y1="659.9" x2="264.2" y2="678.9" class="eb"/>
<line x1="257.7" y1="659.9" x2="270.7" y2="659.9" class="cap"/>
<line x1="257.7" y1="678.9" x2="270.7" y2="678.9" class="cap"/>
<line x1="344.8" y1="659" x2="344.8" y2="678.4" class="eb"/>
<line x1="338.3" y1="659" x2="351.3" y2="659" class="cap"/>
<line x1="338.3" y1="678.4" x2="351.3" y2="678.4" class="cap"/>
<line x1="425.4" y1="653.2" x2="425.4" y2="673.6" class="eb"/>
<line x1="418.9" y1="653.2" x2="431.9" y2="653.2" class="cap"/>
<line x1="418.9" y1="673.6" x2="431.9" y2="673.6" class="cap"/>
<line x1="506" y1="643.6" x2="506" y2="677.2" class="eb"/>
<line x1="499.5" y1="643.6" x2="512.5" y2="643.6" class="cap"/>
<line x1="499.5" y1="677.2" x2="512.5" y2="677.2" class="cap"/>
<line x1="586.6" y1="651.8" x2="586.6" y2="667.8" class="eb"/>
<line x1="580.1" y1="651.8" x2="593.1" y2="651.8" class="cap"/>
<line x1="580.1" y1="667.8" x2="593.1" y2="667.8" class="cap"/>
<line x1="667.2" y1="652.7" x2="667.2" y2="662.7" class="eb"/>
<line x1="660.7" y1="652.7" x2="673.7" y2="652.7" class="cap"/>
<line x1="660.7" y1="662.7" x2="673.7" y2="662.7" class="cap"/>
<line x1="747.8" y1="656.3" x2="747.8" y2="666.3" class="eb"/>
<line x1="741.3" y1="656.3" x2="754.3" y2="656.3" class="cap"/>
<line x1="741.3" y1="666.3" x2="754.3" y2="666.3" class="cap"/>
<line x1="828.4" y1="652.8" x2="828.4" y2="662.8" class="eb"/>
<line x1="821.9" y1="652.8" x2="834.9" y2="652.8" class="cap"/>
<line x1="821.9" y1="662.8" x2="834.9" y2="662.8" class="cap"/>
<line x1="909" y1="649.1" x2="909" y2="677.7" class="eb"/>
<line x1="902.5" y1="649.1" x2="915.5" y2="649.1" class="cap"/>
<line x1="902.5" y1="677.7" x2="915.5" y2="677.7" class="cap"/>
<line x1="989.6" y1="644.7" x2="989.6" y2="677.7" class="eb"/>
<line x1="983.1" y1="644.7" x2="996.1" y2="644.7" class="cap"/>
<line x1="983.1" y1="677.7" x2="996.1" y2="677.7" class="cap"/>
<rect x="98" y="662.4" width="10" height="10" class="mk"/>
<rect x="178.6" y="666.8" width="10" height="10" class="mk"/>
<rect x="259.2" y="664.4" width="10" height="10" class="mk"/>
<rect x="339.8" y="663.7" width="10" height="10" class="mk"/>
<rect x="420.4" y="658.4" width="10" height="10" class="mk"/>
<rect x="501" y="655.4" width="10" height="10" class="mk"/>
<rect x="581.6" y="654.8" width="10" height="10" class="mk"/>
<rect x="662.2" y="652.7" width="10" height="10" class="mk"/>
<rect x="742.8" y="656.3" width="10" height="10" class="mk"/>
<rect x="823.4" y="652.8" width="10" height="10" class="mk"/>
<rect x="904" y="658.4" width="10" height="10" class="mk"/>
<rect x="984.6" y="656.2" width="10" height="10" class="mk"/>
</svg>
</body></html>
